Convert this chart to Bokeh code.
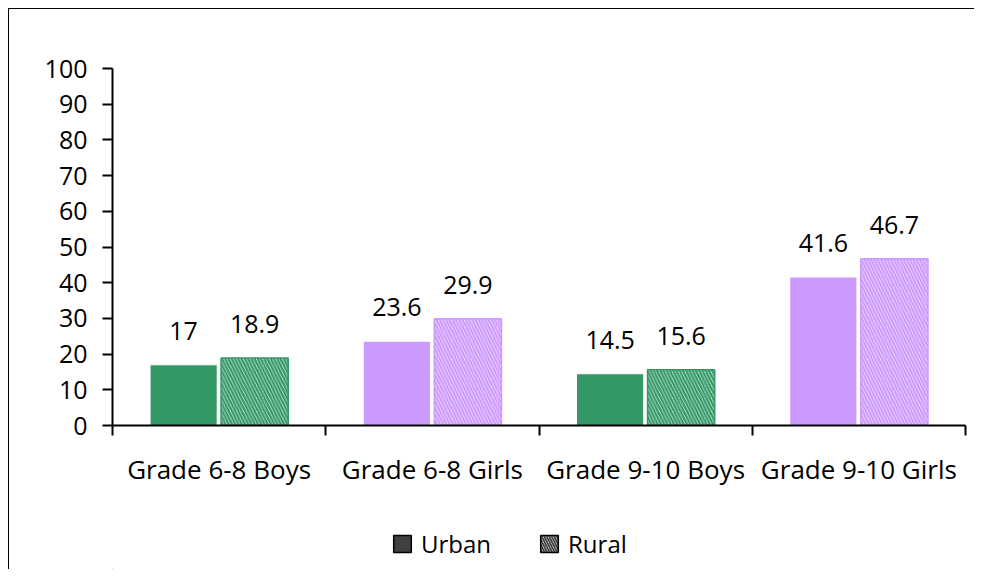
from bokeh.plotting import figure
from bokeh.layouts import column
from bokeh.models import ColumnDataSource, FixedTicker, Range1d, Legend, LegendItem
from bokeh.core.properties import value
from bokeh.embed import file_html
from bokeh.resources import INLINE

categories = ["Grade 6-8 Boys", "Grade 6-8 Girls", "Grade 9-10 Boys", "Grade 9-10 Girls"]
urban = [17, 23.6, 14.5, 41.6]
rural = [18.9, 29.9, 15.6, 46.7]
bar_colors = ["#339966", "#CC99FF", "#339966", "#CC99FF"]
y_ticks = list(range(0, 101, 10))
series_names = ["Urban", "Rural"]

FONT = "Open Sans"

centers = [i + 0.5 for i in range(len(categories))]
urban_x = [c - 0.1665 for c in centers]
rural_x = [c + 0.1665 for c in centers]

src_u = ColumnDataSource(dict(x=urban_x, top=urban, color=bar_colors,
                              label=[f"{v:g}" for v in urban]))
src_r = ColumnDataSource(dict(x=rural_x, top=rural, color=bar_colors,
                              label=[f"{v:g}" for v in rural]))

p = figure(width=966, height=491, x_range=Range1d(0, 4), y_range=Range1d(0, 100),
           output_backend="svg", toolbar_location=None,
           min_border_left=103, min_border_right=10, min_border_top=59, min_border_bottom=75,
           styles={"border-left": "1px solid black", "border-top": "1px solid black"})

p.vbar(x="x", top="top", width=0.315, source=src_u, fill_color="color",
       line_color="white", line_width=1)
p.vbar(x="x", top="top", width=0.315, source=src_r, fill_color="white",
       line_color="color", line_width=1.5, hatch_pattern="\\", hatch_color="color",
       hatch_scale=6.5, hatch_weight=2.4)

for src in (src_u, src_r):
    p.text(x="x", y="top", text="label", source=src, text_align="center",
           text_baseline="alphabetic", y_offset=-34, text_font=value(FONT),
           text_font_size="25px", text_color="black")

p.xgrid.grid_line_color = None
p.ygrid.grid_line_color = None
p.outline_line_color = None

xa = p.xaxis[0]
xa.ticker = FixedTicker(ticks=centers, minor_ticks=[0, 1, 2, 3, 4])
xa.major_label_overrides = {c: n for c, n in zip(centers, categories)}
xa.major_tick_line_color = None
xa.major_tick_out = 0
xa.major_tick_in = 0
xa.minor_tick_line_color = "black"
xa.minor_tick_line_width = 2
xa.minor_tick_out = 10
xa.minor_tick_in = 0
xa.axis_line_width = 2
xa.axis_line_color = "black"
xa.major_label_standoff = 15
xa.major_label_text_font = FONT
xa.major_label_text_font_size = "26px"
xa.major_label_text_color = "black"

ya = p.yaxis[0]
ya.ticker = FixedTicker(ticks=y_ticks, minor_ticks=[])
ya.major_tick_out = 10
ya.major_tick_in = 0
ya.major_tick_line_width = 2
ya.axis_line_width = 2
ya.axis_line_color = "black"
ya.major_label_standoff = 15
ya.major_label_text_font = FONT
ya.major_label_text_font_size = "25px"
ya.major_label_text_color = "black"

# legend strip
p2 = figure(width=966, height=70, x_range=Range1d(0, 1), y_range=Range1d(0, 1),
            output_backend="svg", toolbar_location=None,
            x_axis_type=None, y_axis_type=None,
            min_border_left=0, min_border_right=0, min_border_top=0, min_border_bottom=0,
            styles={"border-left": "1px solid black"})
p2.xgrid.grid_line_color = None
p2.ygrid.grid_line_color = None
p2.outline_line_color = None
# legend key renderers, placed entirely outside the visible ranges
r_u = p2.vbar(x=[-10], bottom=[-10], top=[-9], width=0.3, fill_color="#404040",
              line_color="black", line_width=1.5)
r_r = p2.vbar(x=[-10], bottom=[-10], top=[-9], width=0.3, fill_color="white",
              line_color="black", line_width=1.5, hatch_pattern="\\",
              hatch_color="#404040", hatch_scale=5, hatch_weight=1.8)
legend = Legend(items=[LegendItem(label=series_names[0], renderers=[r_u]),
                       LegendItem(label=series_names[1], renderers=[r_r])],
                orientation="horizontal", location=(279, 9),
                glyph_width=22, glyph_height=21, label_standoff=8, spacing=47,
                padding=0, margin=0, border_line_color=None, background_fill_alpha=0,
                label_text_font=FONT, label_text_font_size="24px",
                label_text_color="black")
p2.add_layout(legend, "center")

layout = column(p, p2, spacing=0, styles={"margin-left": "8px", "margin-top": "8px"})

open("out.html", "w").write(file_html(layout, INLINE))
